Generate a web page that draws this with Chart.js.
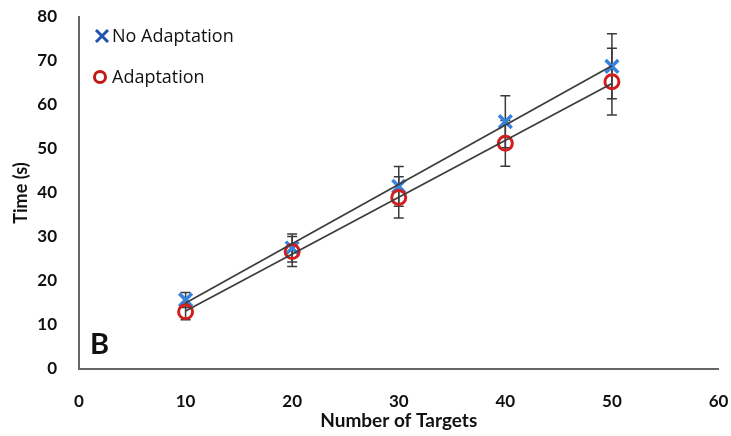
<!DOCTYPE html>
<html>
<head>
<meta charset="utf-8">
<script src="https://cdn.jsdelivr.net/npm/chart.js@4"></script>
<style>
  html, body { margin: 0; padding: 0; background: #fff; }
  #wrap { width: 731px; height: 436px; }
</style>
</head>
<body>
<div id="wrap"><canvas id="myChart" width="731" height="436"></canvas></div>
<script>
// values
const targets = [10, 20, 30, 40, 50];
const noAdaptation = [15.7, 27.5, 41.5, 56.2, 68.8];
const noAdaptationErr = [1.7, 3.2, 4.5, 5.9, 7.4];
const adaptation = [13.0, 26.7, 39.0, 51.3, 65.3];
const adaptationErr = [1.8, 3.4, 4.7, 5.2, 7.6];
// linear trend lines (end points)
const trendX = [10, 50];
const noAdaptationTrend = [15.0, 68.9];
const adaptationTrend = [13.2, 64.9];

const seriesNames = ['No Adaptation', 'Adaptation'];
const panelLabel = 'B';

const FONT = 'Lato, "Open Sans", sans-serif';

const toPoints = (xs, ys) => xs.map((x, i) => ({ x: x, y: ys[i] }));

// vertical error bars with caps, drawn under the markers
const errorBars = {
    id: 'errorBars',
    beforeDatasetsDraw(chart) {
        const { ctx, scales: { x, y } } = chart;
        const sets = [[noAdaptation, noAdaptationErr], [adaptation, adaptationErr]];
        ctx.save();
        ctx.strokeStyle = '#3a3a3a';
        ctx.lineWidth = 1.5;
        sets.forEach(([vals, errs]) => {
            vals.forEach((v, i) => {
                const px = x.getPixelForValue(targets[i]);
                const top = y.getPixelForValue(v + errs[i]);
                const bot = y.getPixelForValue(v - errs[i]);
                ctx.beginPath();
                ctx.moveTo(px, top); ctx.lineTo(px, bot);
                ctx.moveTo(px - 5, top); ctx.lineTo(px + 5, top);
                ctx.moveTo(px - 5, bot); ctx.lineTo(px + 5, bot);
                ctx.stroke();
            });
        });
        ctx.restore();
    }
};

// legend inside the plot + panel letter
const extras = {
    id: 'extras',
    afterDraw(chart) {
        const ctx = chart.ctx;
        const area = chart.chartArea;
        ctx.save();
        // X marker
        let mx = area.left + 23, my = 36;
        ctx.strokeStyle = '#2152ad';
        ctx.lineWidth = 3;
        ctx.beginPath();
        ctx.moveTo(mx - 6, my - 6); ctx.lineTo(mx + 6, my + 6);
        ctx.moveTo(mx + 6, my - 6); ctx.lineTo(mx - 6, my + 6);
        ctx.stroke();
        // circle marker
        ctx.strokeStyle = '#c21a1a';
        ctx.beginPath();
        ctx.arc(area.left + 21, 77, 5.5, 0, Math.PI * 2);
        ctx.stroke();

        ctx.fillStyle = '#111';
        ctx.font = '18px "Open Sans", sans-serif';
        ctx.textBaseline = 'middle';
        ctx.textAlign = 'left';
        ctx.fillText(seriesNames[0], area.left + 33, 37);
        ctx.fillText(seriesNames[1], area.left + 33, 78);

        ctx.font = 'bold 29px ' + FONT;
        ctx.textBaseline = 'alphabetic';
        ctx.fillText(panelLabel, area.left + 11, area.bottom - 15);
        ctx.restore();
    }
};

new Chart('myChart', {
    type: 'scatter',
    data: {
        datasets: [
            {
                label: 'No Adaptation trend',
                data: toPoints(trendX, noAdaptationTrend),
                showLine: true,
                borderColor: '#3c3c3c',
                borderWidth: 1.7,
                pointRadius: 0,
                order: 0
            },
            {
                label: 'Adaptation trend',
                data: toPoints(trendX, adaptationTrend),
                showLine: true,
                borderColor: '#3c3c3c',
                borderWidth: 1.7,
                pointRadius: 0,
                order: 0
            },
            {
                label: seriesNames[1],
                data: toPoints(targets, adaptation),
                pointStyle: 'circle',
                pointRadius: 7,
                borderWidth: 3,
                borderColor: '#d21e1e',
                backgroundColor: 'rgba(0,0,0,0)',
                order: 1
            },
            {
                label: seriesNames[0],
                data: toPoints(targets, noAdaptation),
                pointStyle: 'crossRot',
                pointRadius: 9,
                borderWidth: 3.5,
                borderColor: '#3583dc',
                order: 2
            }
        ]
    },
    options: {
        responsive: false,
        animation: false,
        layout: { padding: { top: 17, right: 9, left: 0, bottom: 0 } },
        plugins: {
            legend: { display: false },
            tooltip: { enabled: false }
        },
        scales: {
            x: {
                type: 'linear',
                min: 0,
                max: 60,
                ticks: {
                    stepSize: 10,
                    padding: 15,
                    color: '#111',
                    font: { family: FONT, size: 17, weight: 'bold' }
                },
                grid: { display: false, drawTicks: true, tickLength: 7, tickColor: '#666', tickWidth: 1.5 },
                border: { color: '#666', width: 2 },
                title: {
                    display: true,
                    text: 'Number of Targets',
                    color: '#111',
                    font: { family: FONT, size: 19, weight: 'bold' },
                    padding: { top: 0, bottom: 4 }
                },
                afterFit(scale) {
                    scale.height = 67;
                    scale.paddingLeft = 0;
                    scale.paddingRight = 0;
                }
            },
            y: {
                min: 0,
                max: 80,
                ticks: {
                    stepSize: 10,
                    padding: 15,
                    color: '#111',
                    font: { family: FONT, size: 17, weight: 'bold' }
                },
                grid: { display: false, drawTicks: true, tickLength: 7, tickColor: '#666', tickWidth: 1.5 },
                border: { color: '#666', width: 2 },
                title: {
                    display: true,
                    text: 'Time (s)',
                    color: '#111',
                    font: { family: FONT, size: 18, weight: 'bold' },
                    padding: { top: 10, bottom: 0 }
                },
                afterFit(scale) {
                    scale.width = 79;
                    scale.paddingTop = 0;
                    scale.paddingBottom = 0;
                }
            }
        }
    },
    plugins: [errorBars, extras]
});
</script>
</body>
</html>
